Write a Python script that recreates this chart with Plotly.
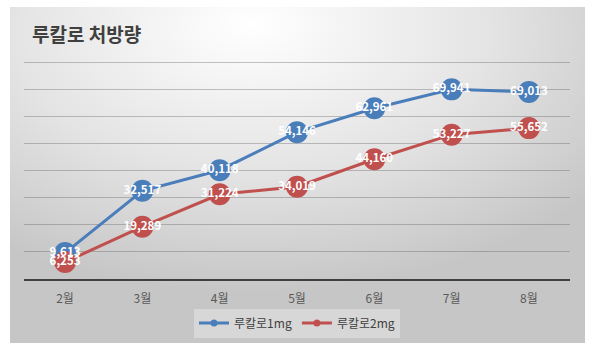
import plotly.graph_objects as go
import urllib.parse

months = ["2월", "3월", "4월", "5월", "6월", "7월", "8월"]
mg1 = [9613, 32517, 40118, 54146, 62961, 69941, 69013]
mg2 = [6253, 19289, 31224, 34019, 44160, 53227, 55652]
names = ["루칼로1mg", "루칼로2mg"]
colors = ["#4a7ebb", "#c0504d"]
title = "루칼로 처방량"

FONT = "Noto Sans CJK KR"

def fmt(v):
    return f"{v:,}"

fig = go.Figure()
for vals, nm, col in zip([mg1, mg2], names, colors):
    fig.add_trace(go.Scatter(
        x=months, y=vals, name=nm, mode="lines+markers", showlegend=False,
        line=dict(color=col, width=3),
        marker=dict(color=col, size=22),
        hoverinfo="skip",
    ))
for vals, nm in zip([mg1, mg2], names):
    fig.add_trace(go.Scatter(
        x=months, y=vals, mode="text", showlegend=False,
        text=[fmt(v) for v in vals], textposition="middle center",
        textfont=dict(family=FONT, size=11.5, color="white", weight="bold"),
        hoverinfo="skip",
    ))
# legend-only entries with small markers
for nm, col in zip(names, colors):
    fig.add_trace(go.Scatter(
        x=[None], y=[None], name=nm, mode="lines+markers",
        line=dict(color=col, width=3), marker=dict(color=col, size=7),
        hoverinfo="skip",
    ))

svg = (
    "<svg xmlns='http://www.w3.org/2000/svg' width='575' height='336'>"
    "<defs><radialGradient id='g' cx='0.42' cy='0.1' r='0.75' fx='0.42' fy='0.05'>"
    "<stop offset='0' stop-color='#ffffff'/>"
    "<stop offset='0.55' stop-color='#e4e4e4'/>"
    "<stop offset='1' stop-color='#c6c6c6'/>"
    "</radialGradient></defs>"
    "<rect width='575' height='336' fill='url(#g)'/></svg>"
)
src = "data:image/svg+xml;charset=utf-8," + urllib.parse.quote(svg)

L, R, T, B = 24, 30, 61, 76
pw, ph = 600 - L - R, 355 - T - B
fig.add_layout_image(dict(
    source=src, xref="paper", yref="paper",
    x=(10 - L) / pw, y=(355 - B - 7) / ph,
    sizex=575 / pw, sizey=336 / ph,
    xanchor="left", yanchor="top", sizing="stretch", layer="below",
))

fig.update_layout(
    width=600, height=355,
    margin=dict(l=L, r=R, t=T, b=B, autoexpand=False),
    paper_bgcolor="white", plot_bgcolor="rgba(0,0,0,0)",
    font=dict(family=FONT, color="#595959", size=12),
    title=dict(text=title, x=32 / 600, xanchor="left", y=1 - 35 / 355, yanchor="middle",
               font=dict(family=FONT, size=19, color="#404040", weight="bold")),
    showlegend=True,
    legend=dict(orientation="h", x=0.5, xanchor="center", y=(355 - B - 323) / ph, yanchor="middle",
                bgcolor="rgba(255,255,255,0.3)", font=dict(size=12, color="#404040"),
                itemwidth=30, tracegroupgap=0),
    xaxis=dict(showgrid=False, showline=True, linecolor="#404040", linewidth=2,
               ticks="outside", ticklen=8, tickcolor="rgba(0,0,0,0)",
               tickfont=dict(size=12, color="#595959"), fixedrange=True,
               automargin=False),
    yaxis=dict(range=[0, 80400], tickvals=[10000 * i for i in range(1, 9)], showgrid=True,
               gridcolor="rgba(90,90,90,0.35)", gridwidth=1,
               showticklabels=False, zeroline=False, showline=False, fixedrange=True,
               automargin=False),
)

fig.write_html("out.html", config={"displayModeBar": False},
               post_script="document.body.style.margin='0';document.body.style.overflow='hidden';")
